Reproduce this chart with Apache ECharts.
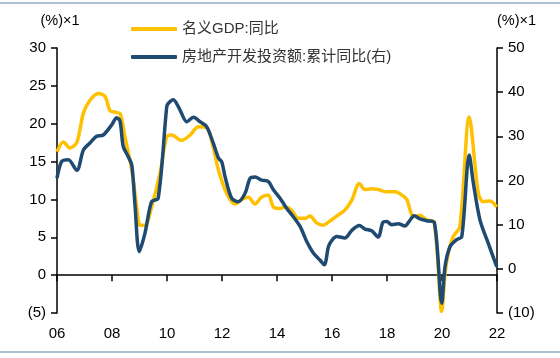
<!DOCTYPE html>
<html>
<head>
<meta charset="utf-8">
<script src="https://cdn.jsdelivr.net/npm/echarts@6/dist/echarts.min.js"></script>
<style>
html,body{margin:0;padding:0;background:#fff;}
#chart{width:560px;height:358px;}
</style>
</head>
<body>
<div id="chart"></div>
<script>
// ---- data ----
var seriesNames = ['名义GDP:同比', '房地产开发投资额:累计同比(右)'];
var xTicks = ['06','08','10','12','14','16','18','20','22'];

var gdpDates = [2006.0,2006.23,2006.47,2006.72,2006.96,2007.2,2007.5,2007.75,2007.93,2008.15,2008.3,2008.47,2008.72,2008.9,2009.02,2009.2,2009.44,2009.75,2009.99,2010.17,2010.53,2010.84,2011.14,2011.44,2011.68,2011.87,2012.17,2012.47,2012.77,2012.96,2013.2,2013.44,2013.68,2013.87,2014.11,2014.29,2014.53,2014.77,2015.02,2015.2,2015.44,2015.68,2015.87,2016.17,2016.47,2016.72,2016.99,2017.2,2017.44,2017.68,2017.99,2018.29,2018.53,2018.72,2018.84,2018.96,2019.2,2019.44,2019.72,2019.99,2020.11,2020.23,2020.41,2020.65,2020.99,2021.32,2021.5,2021.75,2021.99];
var gdpValues = [16.3,17.6,16.8,17.5,21.4,23.1,24.0,23.6,21.7,21.5,21.3,18.3,13.9,9.0,6.6,6.6,9.0,13.5,18.3,18.5,17.8,18.5,19.6,19.5,16.9,13.9,10.8,9.4,10.1,10.3,9.4,10.3,10.6,9.0,8.8,9.0,8.6,7.5,7.5,7.8,6.9,6.6,7.0,7.8,8.6,9.9,12.1,11.3,11.4,11.3,11.0,11.0,10.6,10.0,8.6,7.7,7.9,7.3,7.0,-4.8,0.2,2.9,5.1,6.4,20.9,10.8,9.7,9.8,9.0];

var reiDates = [2006.0,2006.17,2006.41,2006.72,2006.96,2007.2,2007.44,2007.68,2007.99,2008.17,2008.29,2008.41,2008.59,2008.72,2008.84,2008.99,2009.2,2009.44,2009.68,2009.99,2010.05,2010.23,2010.47,2010.72,2010.96,2011.2,2011.44,2011.68,2011.87,2011.99,2012.11,2012.35,2012.59,2012.84,2013.02,2013.2,2013.44,2013.68,2013.87,2014.11,2014.35,2014.59,2014.84,2015.08,2015.32,2015.56,2015.72,2015.87,2015.99,2016.17,2016.47,2016.72,2016.99,2017.2,2017.44,2017.68,2017.85,2017.99,2018.17,2018.41,2018.65,2018.8,2018.99,2019.2,2019.44,2019.72,2019.99,2020.11,2020.29,2020.53,2020.72,2020.99,2021.14,2021.38,2021.68,2021.99];
var reiValues = [20.5,24.3,24.7,22.3,26.9,28.5,30.0,30.3,32.6,34.2,33.5,27.7,25.4,23.5,14.1,3.9,8.1,15.2,16.0,36.7,37.5,38.3,36.0,33.3,34.3,33.3,32.2,28.5,25.1,24.2,20.9,16.0,15.2,17.1,20.5,20.8,20.1,19.8,17.9,16.0,13.7,11.8,9.6,6.2,3.6,2.0,0.9,5.0,6.4,7.3,7.0,8.7,9.8,9.0,8.6,7.2,10.5,10.7,10.0,10.2,9.7,10.7,12.0,11.3,10.9,10.5,-7.8,0.5,5.0,6.6,7.3,25.8,19.4,11.1,5.8,0.5];

function zip(xs, ys){ return xs.map(function(x,i){ return [x, ys[i]]; }); }
function paren(v){ return v < 0 ? '(' + Math.abs(v) + ')' : String(v); }

var font = 'Liberation Sans, Arial, sans-serif';
var chart = echarts.init(document.getElementById('chart'));
chart.setOption({
  animation: false,
  backgroundColor: '#fff',
  textStyle: { fontFamily: font },
  grid: { left: 57, right: 63, top: 48, bottom: 45 },
  legend: {
    orient: 'vertical',
    left: 126, top: 16,
    itemWidth: 46, itemHeight: 4, itemGap: 12,
    icon: 'roundRect',
    textStyle: { fontFamily: 'Liberation Sans, Noto Sans CJK SC, sans-serif', fontSize: 15, lineHeight: 16, color: '#333' },
    data: seriesNames
  },
  graphic: [
    { type: 'line', shape: { x1: 0, y1: 3, x2: 560, y2: 3 }, style: { stroke: '#AFBED2', lineWidth: 2 } },
    { type: 'line', shape: { x1: 0, y1: 352, x2: 560, y2: 352 }, style: { stroke: '#AFBED2', lineWidth: 2 } }
  ],
  xAxis: [
    {
      type: 'value', min: 2006, max: 2022, interval: 2,
      position: 'bottom',
      axisLine: { show: false, onZero: false },
      axisTick: { show: false },
      splitLine: { show: false },
      axisLabel: { margin: 13, fontSize: 15, color: '#000', fontFamily: font,
        formatter: function(v){ return xTicks[(v - 2006) / 2] || ''; } }
    },
    {
      type: 'value', min: 2006, max: 2022, interval: 2,
      position: 'bottom',
      axisLine: { show: true, onZero: true, onZeroAxisIndex: 0, lineStyle: { color: '#000', width: 1.5 } },
      axisTick: { show: true, length: 6, lineStyle: { color: '#000', width: 1.5 } },
      splitLine: { show: false },
      axisLabel: { show: false }
    }
  ],
  yAxis: [
    {
      type: 'value', min: -5, max: 30, interval: 5, position: 'left',
      name: '(%)×1', nameLocation: 'end', nameGap: 20,
      nameTextStyle: { fontSize: 14.5, color: '#000', align: 'center', padding: [0, 0, 0, 6] },
      axisLine: { show: true, lineStyle: { color: '#000', width: 1.5 } },
      axisTick: { show: true, length: 6, lineStyle: { color: '#000', width: 1.5 } },
      splitLine: { show: false },
      axisLabel: { margin: 11, fontSize: 15, color: '#000', formatter: paren }
    },
    {
      type: 'value', min: -10, max: 50, interval: 10, position: 'right',
      name: '(%)×1', nameLocation: 'end', nameGap: 20,
      nameTextStyle: { fontSize: 14.5, color: '#000', align: 'left', padding: [0, 0, 0, 0] },
      axisLine: { show: true, lineStyle: { color: '#000', width: 1.5 } },
      axisTick: { show: true, length: 6, lineStyle: { color: '#000', width: 1.5 } },
      splitLine: { show: false },
      axisLabel: { margin: 11, fontSize: 15, color: '#000', formatter: paren }
    }
  ],
  series: [
    {
      name: seriesNames[0], type: 'line', xAxisIndex: 0, yAxisIndex: 0,
      data: zip(gdpDates, gdpValues),
      symbol: 'none', smooth: 0.3,
      lineStyle: { color: '#FFC000', width: 3.5 },
      itemStyle: { color: '#FFC000' }
    },
    {
      name: seriesNames[1], type: 'line', xAxisIndex: 0, yAxisIndex: 1,
      data: zip(reiDates, reiValues),
      symbol: 'none', smooth: 0.3,
      lineStyle: { color: '#1F4A72', width: 3.5 },
      itemStyle: { color: '#1F4A72' }
    }
  ]
});
</script>
</body>
</html>
